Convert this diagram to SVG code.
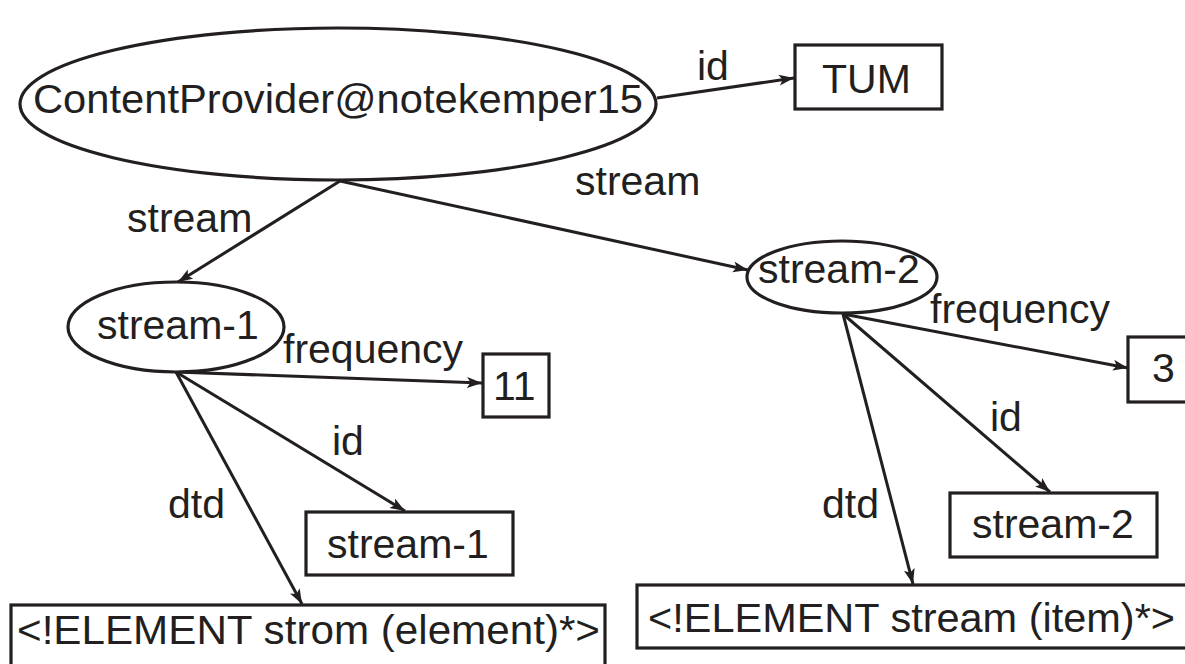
<svg xmlns="http://www.w3.org/2000/svg" width="1185" height="664" viewBox="0 0 1185 664">
  <style>
    .shape { fill: #ffffff; stroke: #231f20; stroke-width: 3.2; }
    .edge { fill: none; stroke: #231f20; stroke-width: 3; marker-end: url(#arrow); }
    text { font-family: "Liberation Sans", Arial, sans-serif; font-size: 41px; fill: #231f20; }
  </style>
  <defs>
    <marker id="arrow" markerUnits="userSpaceOnUse" markerWidth="16" markerHeight="12" refX="15" refY="5.5" orient="auto">
      <path d="M0,0 L15,5.5 L0,11 L3.5,5.5 z" fill="#231f20"/>
    </marker>
  </defs>
  <rect width="1185" height="664" fill="#ffffff"/>

  <!-- connectors with their labels -->
  <g id="connectors">
    <g id="e-provider-id">
      <line class="edge" x1="657" y1="98" x2="794" y2="78"/>
      <text x="697" y="80">id</text>
    </g>
    <g id="e-provider-stream1">
      <line class="edge" x1="340" y1="181" x2="178" y2="282"/>
      <text x="127" y="232">stream</text>
    </g>
    <g id="e-provider-stream2">
      <line class="edge" x1="340" y1="181" x2="748" y2="270"/>
      <text x="575" y="195">stream</text>
    </g>
    <g id="e-stream1-frequency">
      <line class="edge" x1="176" y1="372" x2="482" y2="383"/>
      <text x="283" y="363">frequency</text>
    </g>
    <g id="e-stream1-id">
      <line class="edge" x1="176" y1="372" x2="405" y2="511"/>
      <text x="332" y="455">id</text>
    </g>
    <g id="e-stream1-dtd">
      <line class="edge" x1="176" y1="372" x2="302" y2="604"/>
      <text x="168" y="518">dtd</text>
    </g>
    <g id="e-stream2-frequency">
      <line class="edge" x1="843" y1="314" x2="1128" y2="368"/>
      <text x="930" y="323">frequency</text>
    </g>
    <g id="e-stream2-id">
      <line class="edge" x1="843" y1="314" x2="1050" y2="492"/>
      <text x="990" y="431">id</text>
    </g>
    <g id="e-stream2-dtd">
      <line class="edge" x1="843" y1="314" x2="913" y2="584"/>
      <text x="822" y="518">dtd</text>
    </g>
  </g>

  <!-- nodes -->
  <g id="content-provider">
    <ellipse class="shape" cx="338" cy="104" rx="318" ry="76"/>
    <text x="33" y="113" textLength="610" lengthAdjust="spacingAndGlyphs">ContentProvider@notekemper15</text>
  </g>
  <g id="tum">
    <rect class="shape" x="795" y="45" width="147" height="64"/>
    <text x="822" y="93">TUM</text>
  </g>
  <g id="stream-1">
    <ellipse class="shape" cx="176" cy="327" rx="108" ry="45"/>
    <text x="97" y="339">stream-1</text>
  </g>
  <g id="stream-2">
    <ellipse class="shape" cx="842" cy="277" rx="95" ry="36"/>
    <text x="758" y="283">stream-2</text>
  </g>
  <g id="freq-11">
    <rect class="shape" x="483" y="354" width="66" height="63"/>
    <text x="493" y="400">11</text>
  </g>
  <g id="id-stream-1">
    <rect class="shape" x="306" y="512" width="207" height="63"/>
    <text x="327" y="558">stream-1</text>
  </g>
  <g id="dtd-strom">
    <rect class="shape" x="11" y="605" width="594" height="80"/>
    <text x="17" y="644" textLength="583" lengthAdjust="spacingAndGlyphs">&lt;!ELEMENT strom (element)*&gt;</text>
  </g>
  <g id="freq-3">
    <rect class="shape" x="1128" y="337" width="80" height="65"/>
    <text x="1152" y="382">3</text>
  </g>
  <g id="id-stream-2">
    <rect class="shape" x="950" y="493" width="207" height="64"/>
    <text x="972" y="538">stream-2</text>
  </g>
  <g id="dtd-stream">
    <rect class="shape" x="637" y="585" width="560" height="63"/>
    <text x="648" y="632" textLength="527" lengthAdjust="spacingAndGlyphs">&lt;!ELEMENT stream (item)*&gt;</text>
  </g>
</svg>
